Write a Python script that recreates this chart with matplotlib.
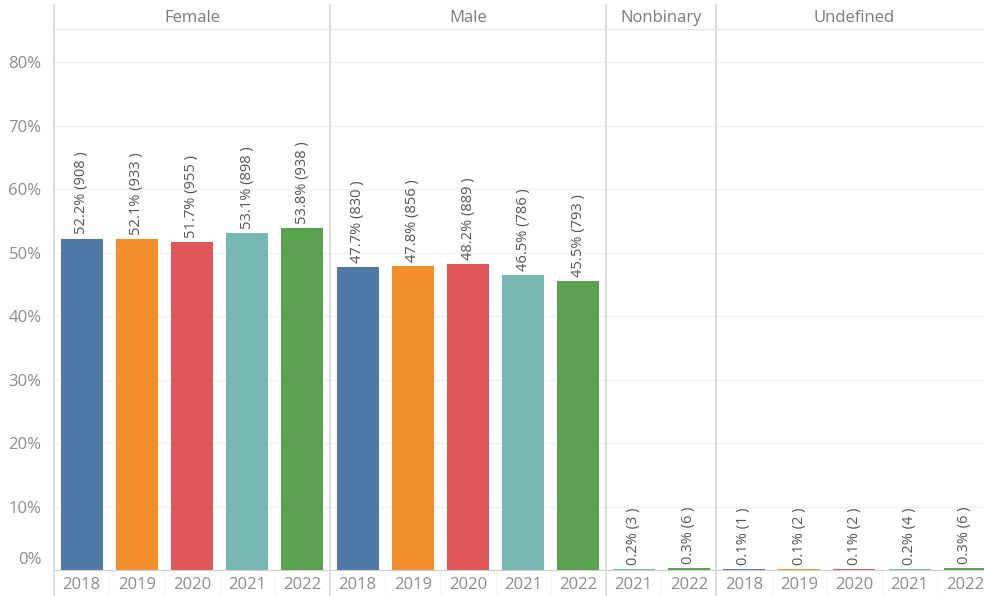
import matplotlib
matplotlib.use("Agg")
import matplotlib.pyplot as plt
from matplotlib.lines import Line2D
from matplotlib.ticker import FuncFormatter, MultipleLocator

plt.rcParams['font.family'] = ['Open Sans', 'DejaVu Sans']

# data
groups = ['Female', 'Male', 'Nonbinary', 'Undefined']
years = {
    'Female': ['2018', '2019', '2020', '2021', '2022'],
    'Male': ['2018', '2019', '2020', '2021', '2022'],
    'Nonbinary': ['2021', '2022'],
    'Undefined': ['2018', '2019', '2020', '2021', '2022'],
}
pct = {
    'Female': [52.2, 52.1, 51.7, 53.1, 53.8],
    'Male': [47.7, 47.8, 48.2, 46.5, 45.5],
    'Nonbinary': [0.2, 0.3],
    'Undefined': [0.1, 0.1, 0.1, 0.2, 0.3],
}
counts = {
    'Female': [908, 933, 955, 898, 938],
    'Male': [830, 856, 889, 786, 793],
    'Nonbinary': [3, 6],
    'Undefined': [1, 2, 2, 4, 6],
}
year_colors = {'2018': '#4e79a7', '2019': '#f28e2b', '2020': '#e15759',
               '2021': '#76b7b2', '2022': '#59a14f'}

W, H = 984, 596
fig = plt.figure(figsize=(W / 100, H / 100), dpi=100)

left_px, slot_px = 54, 55.2
top_px, bottom_px = 29, 570
grey_txt = '#8c8c8c'
sep_col = '#d6d6d6'

x0 = left_px
for g in groups:
    n = len(years[g])
    rect = [x0 / W, (H - bottom_px) / H, n * slot_px / W, (bottom_px - top_px) / H]
    ax = fig.add_axes(rect)
    xs = list(range(n))
    ax.bar(xs, pct[g], width=0.76, color=[year_colors[y] for y in years[g]])
    for x, v, c in zip(xs, pct[g], counts[g]):
        ax.annotate(f'{v:.1f}% ({c} )', (x, v), xytext=(0, 3),
                    textcoords='offset points', rotation=90,
                    ha='center', va='bottom', fontsize=10.5, color='#555555')
    ax.set_xlim(-0.5, n - 0.5)
    ax.set_ylim(0, 85.2)
    ax.set_xticks(xs)
    ax.set_xticklabels(years[g], color=grey_txt, fontsize=12)
    ax.set_xticks([i + 0.5 for i in range(n - 1)], minor=True)
    ax.tick_params(axis='x', which='major', length=0, pad=5)
    ax.tick_params(axis='x', which='minor', length=22, color='#f0f0f0', direction='out')
    ax.yaxis.set_major_locator(MultipleLocator(10))
    ax.grid(axis='y', color='#f0f0f0', lw=1)
    ax.set_axisbelow(True)
    for s in ['left', 'right', 'top']:
        ax.spines[s].set_visible(False)
    ax.spines['bottom'].set_color('#d0d0d0')
    if g == groups[0]:
        # 0% is drawn separately, nudged up as in the original
        ax.yaxis.set_major_formatter(FuncFormatter(lambda v, p: f'{v:.0f}%' if v > 0 else ''))
        ax.tick_params(axis='y', length=6, color='#d0d0d0', labelcolor=grey_txt,
                       labelsize=12, pad=3)
        ax.annotate('0%', xy=(0, 0), xycoords=('axes fraction', 'data'),
                    xytext=(-9, 7), textcoords='offset points', ha='right',
                    va='center', fontsize=12, color=grey_txt)
        for t in ax.yaxis.get_major_ticks()[1:]:
            t.tick1line.set_visible(False)
    else:
        ax.tick_params(axis='y', length=0, labelleft=False)
    # header
    fig.text((x0 + n * slot_px / 2) / W, (H - 18) / H, g, ha='center', va='center',
             fontsize=12, color='#7a7a7a')
    # separator line
    fig.add_artist(Line2D([x0 / W, x0 / W], [0, (H - 5) / H], color=sep_col, lw=1.2))
    x0 += n * slot_px

fig.add_artist(Line2D([left_px / W, 1], [(H - top_px) / H] * 2, color='#e8e8e8', lw=1))

fig.savefig('out.png', dpi=100)
